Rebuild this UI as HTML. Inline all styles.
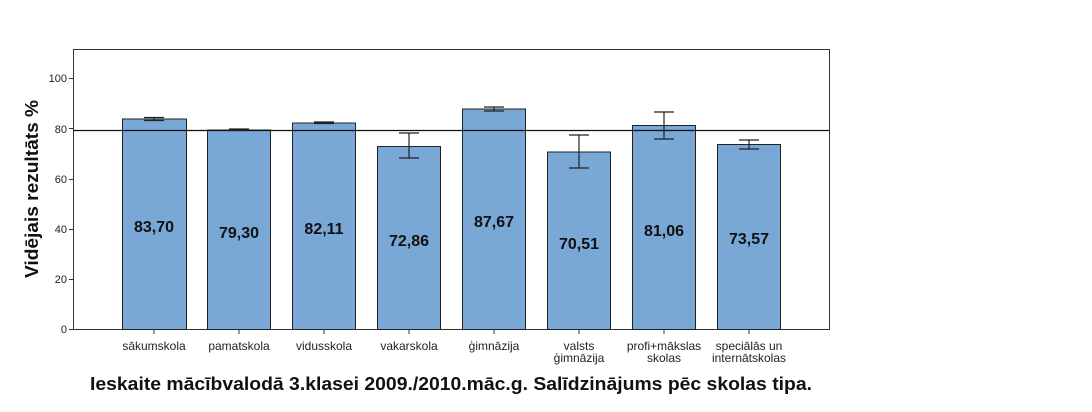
<!DOCTYPE html>
<html><head><meta charset="utf-8"><style>body{margin:0;background:#fff}</style></head><body>
<svg width="1092" height="407" xmlns="http://www.w3.org/2000/svg" font-family="Liberation Sans, Arial, sans-serif">
<rect width="1092" height="407" fill="#fff"/>
<rect x="73.5" y="49.5" width="756" height="280" fill="none" stroke="#333" stroke-width="1"/>
<g font-size="11" fill="#222" text-anchor="end">
<text x="67" y="333">0</text><line x1="69" y1="329.5" x2="73" y2="329.5" stroke="#333"/>
<text x="67" y="283">20</text><line x1="69" y1="279.5" x2="73" y2="279.5" stroke="#333"/>
<text x="67" y="233">40</text><line x1="69" y1="229.5" x2="73" y2="229.5" stroke="#333"/>
<text x="67" y="183">60</text><line x1="69" y1="179.5" x2="73" y2="179.5" stroke="#333"/>
<text x="67" y="133">80</text><line x1="69" y1="128.5" x2="73" y2="128.5" stroke="#333"/>
<text x="67" y="82">100</text><line x1="69" y1="78.5" x2="73" y2="78.5" stroke="#333"/>
</g>
<text transform="translate(38,189) rotate(-90)" font-size="18" font-weight="bold" text-anchor="middle" fill="#111" textLength="178" lengthAdjust="spacingAndGlyphs">Vidējais rezultāts %</text>
<g fill="#79a7d6" stroke="#222" stroke-width="1">
<rect x="122.5" y="119" width="64" height="210.5"/>
<rect x="207.5" y="130" width="63" height="199.5"/>
<rect x="292.5" y="123" width="63" height="206.5"/>
<rect x="377.5" y="146.5" width="63" height="183"/>
<rect x="462.5" y="109" width="63" height="220.5"/>
<rect x="547.5" y="152" width="63" height="177.5"/>
<rect x="632.5" y="125.5" width="63" height="204"/>
<rect x="717.5" y="144.5" width="63" height="185"/>
</g>
<line x1="73" y1="130.5" x2="829" y2="130.5" stroke="#111" stroke-width="1.3"/>
<g stroke="#222" stroke-width="1.2" fill="none">
<path d="M144 117.5h20M144 120.5h20M154 117.5v3"/>
<path d="M229 129h20M229 130.5h20"/>
<path d="M314 122h20M314 123.5h20"/>
<path d="M399 133h20M399 158h20M409 133v25"/>
<path d="M484 107h20M484 111h20M494 107v4"/>
<path d="M569 135h20M569 168h20M579 135v33"/>
<path d="M654 112h20M654 139h20M664 112v27"/>
<path d="M739 140h20M739 149h20M749 140v9"/>
</g>
<g font-size="16" font-weight="bold" fill="#111" text-anchor="middle">
<text x="154" y="232">83,70</text>
<text x="239" y="238">79,30</text>
<text x="324" y="234">82,11</text>
<text x="409" y="246">72,86</text>
<text x="494" y="227">87,67</text>
<text x="579" y="249">70,51</text>
<text x="664" y="236">81,06</text>
<text x="749" y="244">73,57</text>
</g>
<g stroke="#333"><path d="M154 329v5M239 329v5M324 329v5M409 329v5M494 329v5M579 329v5M664 329v5M749 329v5"/></g>
<g font-size="12" fill="#222" text-anchor="middle">
<text x="154" y="350">sākumskola</text>
<text x="239" y="350">pamatskola</text>
<text x="324" y="350">vidusskola</text>
<text x="409" y="350">vakarskola</text>
<text x="494" y="350">ģimnāzija</text>
<text x="579" y="350">valsts</text><text x="579" y="362">ģimnāzija</text>
<text x="664" y="350">profi+mākslas</text><text x="664" y="362">skolas</text>
<text x="749" y="350">speciālās un</text><text x="749" y="362">internātskolas</text>
</g>
<text x="451" y="390" font-size="18" font-weight="bold" text-anchor="middle" fill="#111" textLength="722" lengthAdjust="spacingAndGlyphs">Ieskaite mācībvalodā 3.klasei 2009./2010.māc.g. Salīdzinājums pēc skolas tipa.</text>
</svg>
</body></html>
